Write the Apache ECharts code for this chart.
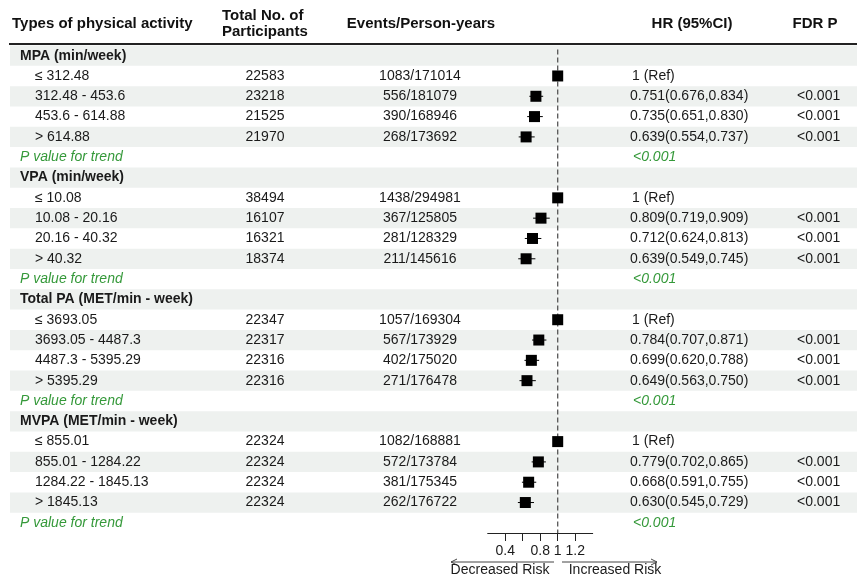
<!DOCTYPE html>
<html><head><meta charset="utf-8">
<script src="https://cdn.jsdelivr.net/npm/echarts@6/dist/echarts.min.js"></script>
<style>html,body{margin:0;padding:0;background:#fff}#c{width:857px;height:575px}</style>
</head><body><div id="c"></div><script>
const rowLabels = ['MPA (min/week)', '≤ 312.48', '312.48 - 453.6', '453.6 - 614.88', '> 614.88', 'P value for trend',
  'VPA (min/week)', '≤ 10.08', '10.08 - 20.16', '20.16 - 40.32', '> 40.32', 'P value for trend',
  'Total PA (MET/min - week)', '≤ 3693.05', '3693.05 - 4487.3', '4487.3 - 5395.29', '> 5395.29', 'P value for trend',
  'MVPA (MET/min - week)', '≤ 855.01', '855.01 - 1284.22', '1284.22 - 1845.13', '> 1845.13', 'P value for trend'];
const rowKinds = ['group','ref','level','level','level','trend',
  'group','ref','level','level','level','trend',
  'group','ref','level','level','level','trend',
  'group','ref','level','level','level','trend'];
const participants = ['', '22583', '23218', '21525', '21970', '',
  '', '38494', '16107', '16321', '18374', '',
  '', '22347', '22317', '22316', '22316', '',
  '', '22324', '22324', '22324', '22324', ''];
const events = ['', '1083/171014', '556/181079', '390/168946', '268/173692', '',
  '', '1438/294981', '367/125805', '281/128329', '211/145616', '',
  '', '1057/169304', '567/173929', '402/175020', '271/176478', '',
  '', '1082/168881', '572/173784', '381/175345', '262/176722', ''];
const hr    = [null, 1, 0.751, 0.735, 0.639, null, null, 1, 0.809, 0.712, 0.639, null,
  null, 1, 0.784, 0.699, 0.649, null, null, 1, 0.779, 0.668, 0.630, null];
const lower = [null, 1, 0.676, 0.651, 0.554, null, null, 1, 0.719, 0.624, 0.549, null,
  null, 1, 0.707, 0.620, 0.563, null, null, 1, 0.702, 0.591, 0.545, null];
const upper = [null, 1, 0.834, 0.830, 0.737, null, null, 1, 0.909, 0.813, 0.745, null,
  null, 1, 0.871, 0.788, 0.750, null, null, 1, 0.865, 0.755, 0.729, null];
const trendP = ['', '', '', '', '', '<0.001', '', '', '', '', '', '<0.001',
  '', '', '', '', '', '<0.001', '', '', '', '', '', '<0.001'];
const fdrP = ['', '', '<0.001', '<0.001', '<0.001', '', '', '', '<0.001', '<0.001', '<0.001', '',
  '', '', '<0.001', '<0.001', '<0.001', '', '', '', '<0.001', '<0.001', '<0.001', ''];
const xTicks = [0.4, 0.6, 0.8, 1, 1.2];
const xLabels = [0.4, 0.8, 1, 1.2];

const FONT = '"Liberation Sans", Arial, sans-serif';
const GREEN = '#35993a';
const hrText = hr.map((v, i) => {
  if (rowKinds[i] === 'ref') return '1 (Ref)';
  if (v == null) return trendP[i];
  return v.toFixed(3) + '(' + lower[i].toFixed(3) + ',' + upper[i].toFixed(3) + ')';
});

const rowIdx = rowLabels.map((_, i) => i);
const chart = echarts.init(document.getElementById('c'), null, {renderer: 'canvas'});

function txt(x, y, text, opt) {
  return Object.assign({type: 'text', x: x, y: y, style: Object.assign({
    text: text, fill: '#1a1a1a', font: '14px ' + FONT, align: 'left', verticalAlign: 'middle'
  }, opt || {})});
}
const HF = 'bold 15px ' + FONT;

chart.setOption({
  animation: false,
  grid: {left: 487.7, width: 105, top: 45.5, height: 487.5},
  xAxis: {
    type: 'value', min: 0.2, max: 1.4, interval: 0.2, position: 'bottom',
    splitLine: {show: false},
    axisLine: {show: true, onZero: false, lineStyle: {color: '#222', width: 1}},
    axisTick: {show: true, length: 8, customValues: xTicks, lineStyle: {color: '#222'}},
    axisLabel: {show: true, customValues: xLabels, margin: 11, color: '#1a1a1a', fontSize: 14, fontFamily: FONT,
      formatter: v => String(v)}
  },
  yAxis: {type: 'value', min: -0.5, max: 23.5, inverse: true, show: false},
  series: [
    {
      type: 'custom', z: 0, silent: true,
      data: rowIdx.map(i => [0.2, i]),
      renderItem: (params, api) => {
        const i = api.value(1);
        if (i % 2 !== 0) return {type: 'group', children: []};
        const p = api.coord([0.2, i]);
        const h = api.size([0, 1])[1];
        return {type: 'rect', shape: {x: 10, y: p[1] - h / 2, width: 847, height: h},
          style: {fill: '#eef1ef'}};
      }
    },
    {
      type: 'line', z: 3, silent: true, symbol: 'none',
      data: [[1, -0.3], [1, 23.5]],
      lineStyle: {color: '#555', width: 1.3, type: [5, 3]}
    },
    {
      type: 'custom', z: 2, silent: true,
      data: rowIdx.map(i => [0.2, i]),
      renderItem: (params, api) => {
        const i = api.value(1);
        const y = api.coord([0.2, i])[1];
        const k = rowKinds[i];
        const ch = [];
        if (k === 'group') {
          ch.push(txt(20, y, rowLabels[i], {font: 'bold 14px ' + FONT}));
        } else if (k === 'trend') {
          ch.push(txt(20, y, rowLabels[i], {font: 'italic 14px ' + FONT, fill: GREEN}));
          ch.push(txt(633, y, hrText[i], {font: 'italic 14px ' + FONT, fill: GREEN}));
        } else {
          ch.push(txt(35, y, rowLabels[i]));
          ch.push(txt(265, y, participants[i], {align: 'center'}));
          ch.push(txt(420, y, events[i], {align: 'center'}));
          ch.push(txt(k === 'ref' ? 632 : 630, y, hrText[i]));
          if (fdrP[i]) ch.push(txt(797, y, fdrP[i]));
        }
        return {type: 'group', children: ch};
      }
    },
    {
      type: 'custom', z: 4, silent: true,
      data: rowIdx.filter(i => hr[i] != null).map(i => [hr[i], i, lower[i], upper[i]]),
      encode: {x: [0, 2, 3], y: 1},
      renderItem: (params, api) => {
        const c = api.coord([api.value(0), api.value(1)]);
        const l = api.coord([api.value(2), api.value(1)]);
        const u = api.coord([api.value(3), api.value(1)]);
        const s = 11;
        return {type: 'group', children: [
          {type: 'line', shape: {x1: l[0], y1: c[1], x2: u[0], y2: c[1]}, style: {stroke: '#000', lineWidth: 1}},
          {type: 'rect', shape: {x: c[0] - s / 2, y: c[1] - s / 2, width: s, height: s}, style: {fill: '#000'}}
        ]};
      }
    }
  ],
  graphic: [
    {type: 'text', x: 12, y: 24, style: {text: 'Types of physical activity', font: HF, fill: '#111', verticalAlign: 'middle'}},
    {type: 'text', x: 222, y: 16, style: {text: 'Total No. of', font: HF, fill: '#111', verticalAlign: 'middle'}},
    {type: 'text', x: 222, y: 32, style: {text: 'Participants', font: HF, fill: '#111', verticalAlign: 'middle'}},
    {type: 'text', x: 421, y: 24, style: {text: 'Events/Person-years', font: HF, fill: '#111', align: 'center', verticalAlign: 'middle'}},
    {type: 'text', x: 692, y: 24, style: {text: 'HR (95%CI)', font: HF, fill: '#111', align: 'center', verticalAlign: 'middle'}},
    {type: 'text', x: 815, y: 24, style: {text: 'FDR P', font: HF, fill: '#111', align: 'center', verticalAlign: 'middle'}},
    {type: 'line', shape: {x1: 9, y1: 44, x2: 857, y2: 44}, style: {stroke: '#222', lineWidth: 2}, z: 10},
    {type: 'line', shape: {x1: 554, y1: 562, x2: 451, y2: 562}, style: {stroke: '#444', lineWidth: 1}},
    {type: 'polyline', shape: {points: [[457, 559], [451, 562], [457, 565]]}, style: {stroke: '#444', lineWidth: 1, fill: null}},
    {type: 'line', shape: {x1: 562, y1: 562, x2: 657, y2: 562}, style: {stroke: '#444', lineWidth: 1}},
    {type: 'polyline', shape: {points: [[651, 559], [657, 562], [651, 565]]}, style: {stroke: '#444', lineWidth: 1, fill: null}},
    {type: 'text', x: 500, y: 570, style: {text: 'Decreased Risk', font: '14px ' + FONT, fill: '#1a1a1a', align: 'center', verticalAlign: 'middle'}},
    {type: 'text', x: 615, y: 570, style: {text: 'Increased Risk', font: '14px ' + FONT, fill: '#1a1a1a', align: 'center', verticalAlign: 'middle'}}
  ]
});
</script></body></html>
